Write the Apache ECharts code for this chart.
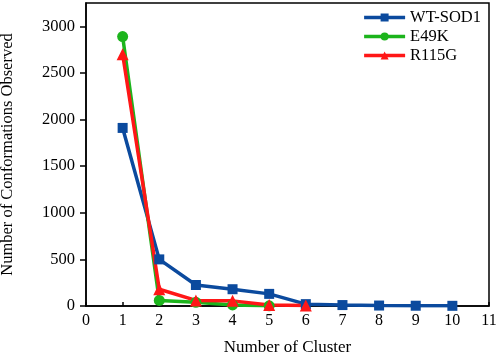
<!DOCTYPE html>
<html>
<head>
<meta charset="utf-8">
<script src="https://cdn.jsdelivr.net/npm/echarts@6/dist/echarts.min.js"></script>
<style>
  html, body { margin: 0; padding: 0; background: #fff; }
  #chart { width: 498px; height: 355px; }
</style>
</head>
<body>
<div id="chart"></div>
<script>
const clusters = [1, 2, 3, 4, 5, 6, 7, 8, 9, 10];
const wtSod1 = [1910, 500, 225, 180, 130, 20, 10, 5, 3, 2];
const e49k = [2890, 60, 40, 12, 2];
const r115g = [2700, 180, 60, 55, 10, 5];

const font = 'Liberation Serif';
const pairs = (vals) => vals.map((v, i) => [clusters[i], v]);

const chart = echarts.init(document.getElementById('chart'));
chart.setOption({
  animation: false,
  textStyle: { fontFamily: font },
  grid: {
    left: 86, right: 9, top: 3, bottom: 49, outerBoundsMode: 'none',
    show: true, borderColor: '#000', borderWidth: 1.5
  },
  legend: {
    right: 12, top: 4, orient: 'vertical', itemGap: 2,
    itemWidth: 41, itemHeight: 10,
    lineStyle: { width: 3.5 },
    textStyle: { fontFamily: font, fontSize: 16.5, color: '#000' },
    data: ['WT-SOD1', 'E49K', 'R115G']
  },
  xAxis: {
    type: 'value', min: 0, max: 11, interval: 1,
    name: 'Number of Cluster', nameLocation: 'middle', nameGap: 33,
    nameTextStyle: { fontFamily: font, fontSize: 17, color: '#000' },
    axisLine: { lineStyle: { color: '#000', width: 1.5 } },
    axisTick: { show: true, inside: true, length: 4, lineStyle: { color: '#000', width: 1.5 } },
    axisLabel: { fontFamily: font, fontSize: 16, color: '#000', margin: 7, formatter: (v) => String(v) },
    splitLine: { show: false }
  },
  yAxis: {
    type: 'value', min: 0, max: 3250, interval: 500,
    name: 'Number of Conformations Observed', nameLocation: 'middle', nameGap: 70,
    nameTextStyle: { fontFamily: font, fontSize: 16.5, color: '#000' },
    axisLine: { show: true, lineStyle: { color: '#000', width: 1.5 } },
    axisTick: { show: true, length: 6, lineStyle: { color: '#000', width: 1.5 } },
    axisLabel: { fontFamily: font, fontSize: 16.5, color: '#000', margin: 11, showMaxLabel: false, formatter: (v) => String(v) },
    splitLine: { show: false }
  },
  series: [
    { name: 'WT-SOD1', type: 'line', data: pairs(wtSod1), symbol: 'rect', symbolSize: 10,
      color: '#0b4a9e', lineStyle: { width: 3.5 } },
    { name: 'E49K', type: 'line', data: pairs(e49k), symbol: 'circle', symbolSize: 11,
      color: '#1cb41c', lineStyle: { width: 3.5 } },
    { name: 'R115G', type: 'line', data: pairs(r115g), symbol: 'triangle', symbolSize: 12,
      color: '#ff1717', lineStyle: { width: 3.5 } }
  ]
});
</script>
</body>
</html>
